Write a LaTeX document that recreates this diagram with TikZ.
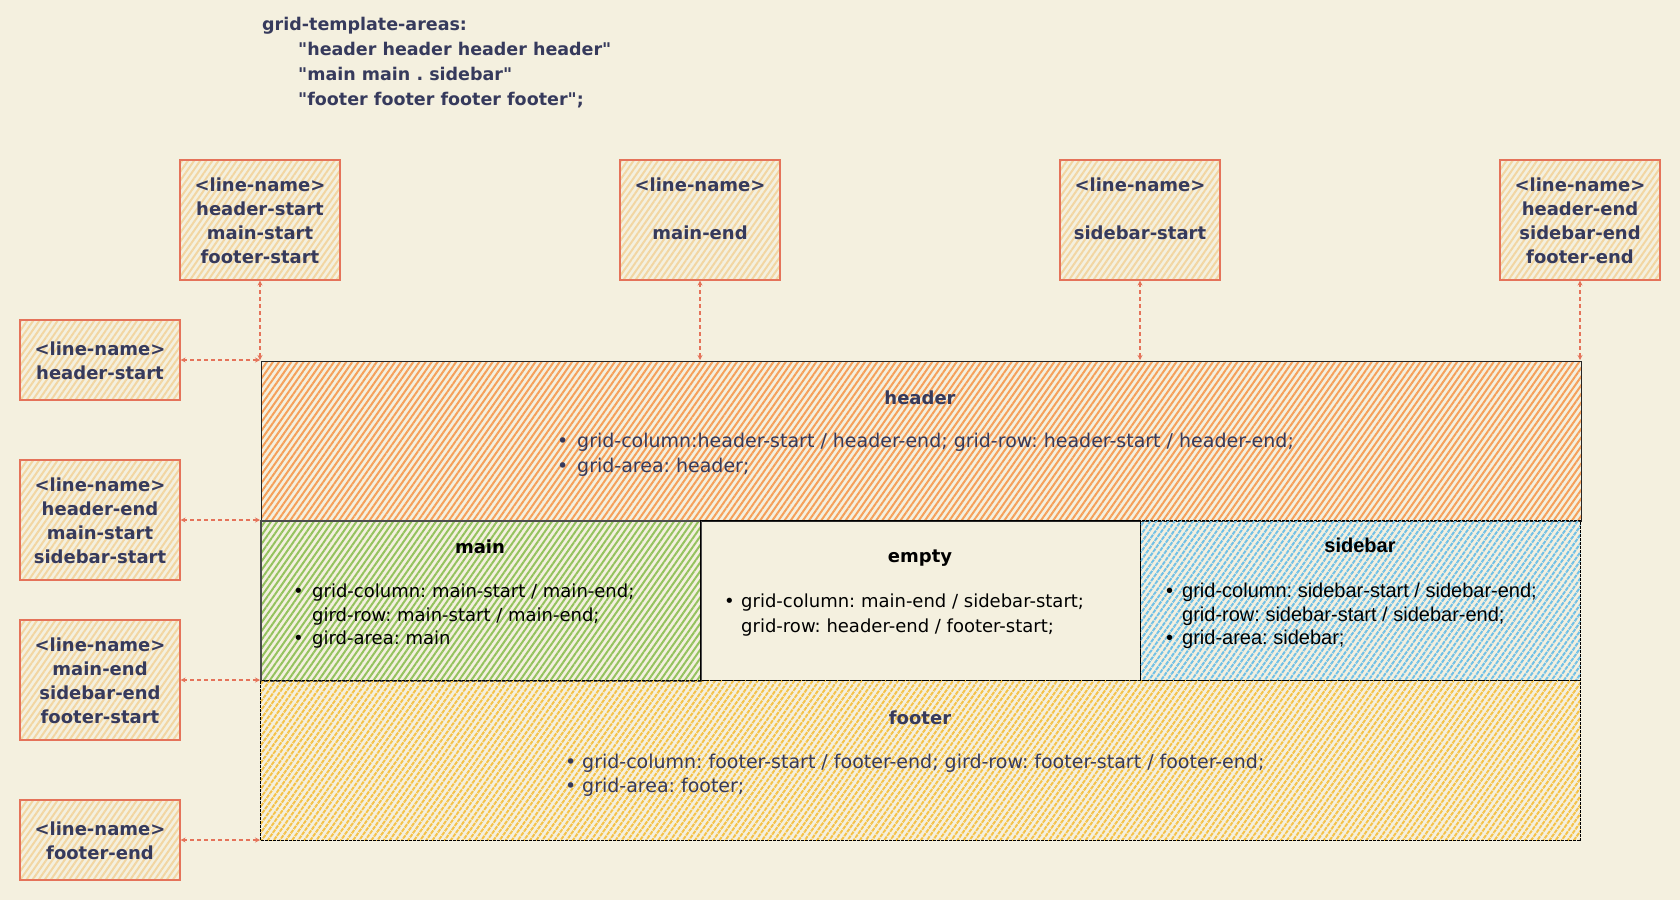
\documentclass[tikz,border=0pt]{standalone}
\usepackage{fontspec}
\setmainfont{DejaVu Sans}
\newfontfamily\codef{DejaVu Sans}[Ligatures=TeXOff]
\newfontfamily\arialf{Liberation Sans}
\usetikzlibrary{patterns.meta,arrows.meta}
\definecolor{bg}{HTML}{F4F0DF}
\definecolor{navy}{HTML}{363A5C}
\definecolor{boxline}{HTML}{E5735A}
\definecolor{boxhatch}{HTML}{F2D6A2}
\definecolor{hdrhatch}{HTML}{F5A05A}
\definecolor{mainhatch}{HTML}{94C25E}
\definecolor{sidehatch}{HTML}{70C0E6}
\definecolor{foothatch}{HTML}{F4C248}
\definecolor{connc}{HTML}{E5735A}
\newcommand\lnlines[1]{\raisebox{-3pt}[\height][\depth]{\begin{tabular}{@{}c@{}}#1\end{tabular}}}
\begin{document}
\frenchspacing
\begin{tikzpicture}[x=1pt,y=-1pt,
  lnbox/.style={draw=boxline, line width=1.2pt,
    pattern={Lines[angle=55,distance=5pt,line width=2pt]}, pattern color=boxhatch,
    minimum width=160pt, inner sep=0pt,
    font=\fontsize{18}{24}\selectfont\bfseries, text=navy},
  region/.style={line width=1pt, inner sep=0pt, anchor=north west},
  conn/.style={draw=connc, line width=1.4pt, dash pattern=on 4pt off 3pt,
    {Stealth[length=5pt,width=5pt]}-{Stealth[length=5pt,width=5pt]}},
  codetxt/.style={anchor=base west, inner sep=0pt, text=navy, font=\codef\fontsize{17.5}{24}\selectfont\bfseries},
  bt/.style={anchor=base west, inner sep=0pt, font=\fontsize{18}{24}\selectfont},
  btw/.style={anchor=base west, inner sep=0pt, font=\fontsize{19}{24}\selectfont},
  ttl/.style={inner sep=0pt, font=\fontsize{18}{24}\selectfont\bfseries},
  arialtxt/.style={anchor=base west, inner sep=0pt, font=\arialf\fontsize{20}{24}\selectfont},
]
\fill[bg] (0,0) rectangle (1680,900);
\useasboundingbox (0,0) rectangle (1680,900);

% code text
\node[codetxt] (code1) at (262,30) {grid-template-areas:};
\node[codetxt] (code2) at (298,55) {"header header header header"};
\node[codetxt] (code3) at (298,80) {"main main . sidebar"};
\node[codetxt] (code4) at (298,105) {"footer footer footer footer";};

% regions
\node[region, draw=black!85, pattern={Lines[angle=55,distance=5pt,line width=2pt]}, pattern color=hdrhatch,
  minimum width=1320pt, minimum height=160pt] (header) at (260,360) {};
\node[region, draw=black!70, line width=1.5pt, pattern={Lines[angle=55,distance=5pt,line width=2pt]}, pattern color=mainhatch,
  minimum width=440pt, minimum height=160pt] (main) at (260,520) {};
\node[region, draw=black, minimum width=440pt, minimum height=160pt] (empty) at (700,520) {};
\node[region, draw=black, dash pattern=on 3pt off 1pt, pattern={Lines[angle=55,distance=5pt,line width=2pt]}, pattern color=sidehatch,
  minimum width=440pt, minimum height=160pt] (sidebar) at (1140,520) {};
\node[region, draw=black, dash pattern=on 3pt off 1pt, pattern={Lines[angle=55,distance=5pt,line width=2pt]}, pattern color=foothatch,
  minimum width=1320pt, minimum height=160pt] (footer) at (260,680) {};

% grid line coordinates
\coordinate (v1) at (260,360);
\coordinate (v2) at (700,360);
\coordinate (v3) at (1140,360);
\coordinate (v4) at (1580,360);
\coordinate (h2) at (260,520);
\coordinate (h3) at (260,680);
\coordinate (h4) at (260,840);

% top line-name boxes
\node[lnbox, minimum height=120pt] (t1) at (260,220) {\lnlines{<line-name>\\header-start\\main-start\\footer-start}};
\node[lnbox, minimum height=120pt] (t2) at (700,220) {\lnlines{<line-name>\\\mbox{}\\main-end\\\mbox{}}};
\node[lnbox, minimum height=120pt] (t3) at (1140,220) {\lnlines{<line-name>\\\mbox{}\\sidebar-start\\\mbox{}}};
\node[lnbox, minimum height=120pt] (t4) at (1580,220) {\lnlines{<line-name>\\header-end\\sidebar-end\\footer-end}};

% left line-name boxes
\node[lnbox, minimum height=80pt] (l1) at (100,360) {\lnlines{<line-name>\\header-start}};
\node[lnbox, minimum height=120pt] (l2) at (100,520) {\lnlines{<line-name>\\header-end\\main-start\\sidebar-start}};
\node[lnbox, minimum height=120pt] (l3) at (100,680) {\lnlines{<line-name>\\main-end\\sidebar-end\\footer-start}};
\node[lnbox, minimum height=80pt] (l4) at (100,840) {\lnlines{<line-name>\\footer-end}};

% connectors
\draw[conn] (v1) -- (t1.south);
\draw[conn] (v2) -- (t2.south);
\draw[conn] (v3) -- (t3.south);
\draw[conn] (v4) -- (t4.south);
\draw[conn] (v1) -- (l1.east);
\draw[conn] (h2) -- (l2.east);
\draw[conn] (h3) -- (l3.east);
\draw[conn] (h4) -- (l4.east);

% header text
\node[ttl, text=navy] (hdrttl) at (920,398) {header};
\node[btw, text=navy] (hb1) at (557,447) {•};
\node[btw, text=navy] (ht1) at (577,447) {grid-column:header-start / header-end; grid-row: header-start / header-end;};
\node[btw, text=navy] (hb2) at (557,472) {•};
\node[btw, text=navy] (ht2) at (577,472) {grid-area: header;};

% main text
\node[ttl, text=black] (mainttl) at (480,547) {main};
\node[bt, text=black] (mb1) at (293,597) {•};
\node[bt, text=black] (mt1) at (312,597) {grid-column: main-start / main-end;};
\node[bt, text=black] (mt2) at (312,621) {gird-row: main-start / main-end;};
\node[bt, text=black] (mb3) at (293,644) {•};
\node[bt, text=black] (mt3) at (312,644) {gird-area: main};

% empty text
\node[ttl, text=black] (emptyttl) at (920,558) {empty};
\node[bt, text=black] (eb1) at (724,607) {•};
\node[bt, text=black] (et1) at (741,607) {grid-column: main-end / sidebar-start;};
\node[bt, text=black] (et2) at (741,632) {grid-row: header-end / footer-start;};

% sidebar text
\node[ttl, font=\arialf\fontsize{20}{24}\selectfont\bfseries, text=black] (sidettl) at (1360,545) {sidebar};
\node[arialtxt, text=black] (sb1) at (1166,597) {•};
\node[arialtxt, text=black] (st1) at (1182,597) {grid-column: sidebar-start / sidebar-end;};
\node[arialtxt, text=black] (st2) at (1182,621) {grid-row: sidebar-start / sidebar-end;};
\node[arialtxt, text=black] (sb3) at (1166,644) {•};
\node[arialtxt, text=black] (st3) at (1182,644) {grid-area: sidebar;};

% footer text
\node[ttl, text=navy] (footttl) at (920,718) {footer};
\node[btw, text=navy] (fb1) at (565,768) {•};
\node[btw, text=navy] (ft1) at (582,768) {grid-column: footer-start / footer-end; gird-row: footer-start / footer-end;};
\node[btw, text=navy] (fb2) at (565,792) {•};
\node[btw, text=navy] (ft2) at (582,792) {grid-area: footer;};
\end{tikzpicture}
\end{document}
